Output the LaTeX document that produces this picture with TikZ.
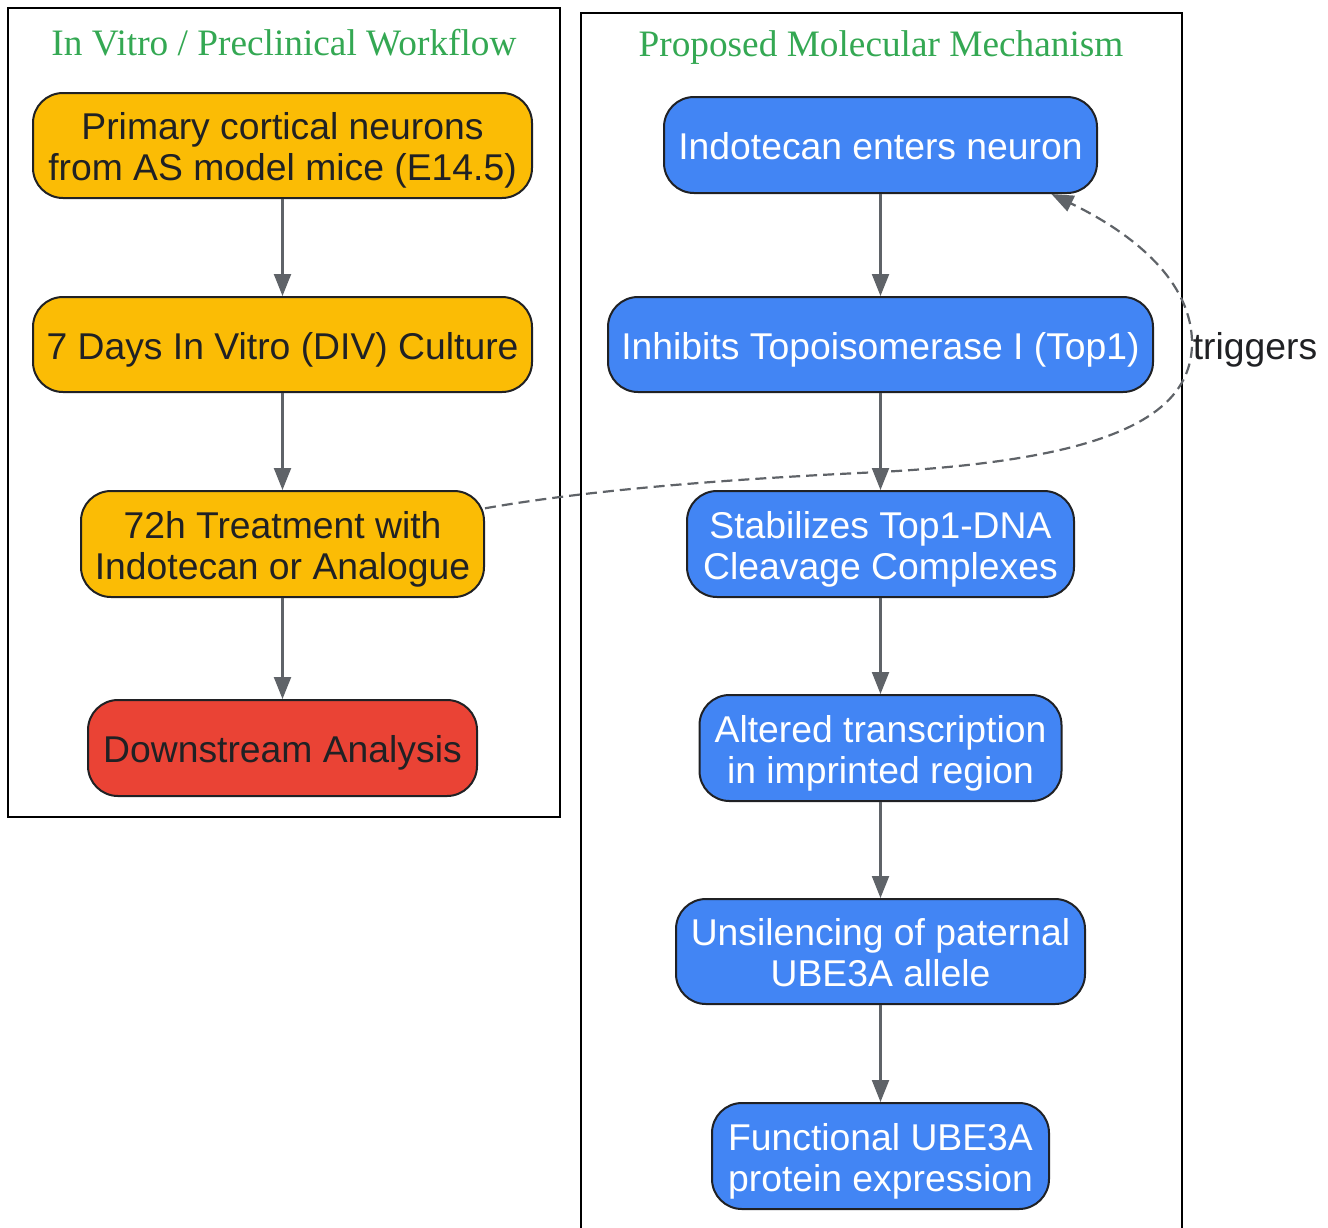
\documentclass[tikz,border=0pt]{standalone}
\usepackage{fontspec}
\setmainfont{Liberation Sans}
\newfontfamily\titlefont{Liberation Serif}
\usetikzlibrary{arrows.meta}
\definecolor{gorange}{HTML}{FBBC05}
\definecolor{gred}{HTML}{EA4335}
\definecolor{gblue}{HTML}{4285F4}
\definecolor{ggreen}{HTML}{34A853}
\definecolor{ggrey}{HTML}{5F6368}
\definecolor{gdark}{HTML}{202124}
\newcommand{\bxt}[1]{\raisebox{-6.5pt}[\height][\depth]{\begin{tabular}{@{}c@{}}#1\end{tabular}}}
\tikzset{
  box/.style={draw=gdark, line width=2pt, rounded corners=30pt, inner sep=0pt, align=center,
    font=\fontsize{37.3}{41}\selectfont},
  orangebox/.style={box, fill=gorange, text=gdark},
  redbox/.style={box, fill=gred, text=gdark},
  bluebox/.style={box, fill=gblue, text=white},
  flow/.style={draw=ggrey, line width=2.2pt, -{Triangle[length=22pt,width=17pt]}},
  trig/.style={draw=ggrey, line width=2.2pt, dash pattern=on 11pt off 6pt, -{Triangle[length=22pt,width=17pt]}},
  cluster/.style={draw=black, line width=2pt},
  ctitle/.style={text=ggreen, font=\titlefont\fontsize{37.3}{41}\selectfont},
}
\begin{document}
\begin{tikzpicture}[x=1pt,y=-1pt]
\useasboundingbox (0,0) rectangle (1328,1227);
% clusters
\draw[cluster] (8,8) rectangle (560,817);
\draw[cluster] (581,1240) -- (581,13) -- (1182,13) -- (1182,1240);
\node[ctitle] (t1) at (284,43) {In Vitro / Preclinical Workflow};
\node[ctitle] (t2) at (881,48) {Proposed Molecular Mechanism};
% left nodes
\node[orangebox, minimum width=499pt, minimum height=105pt] (n1) at (282.5,145.5) {\bxt{Primary cortical neurons\\from AS model mice (E14.5)}};
\node[orangebox, minimum width=499pt, minimum height=95pt] (n2) at (282.5,344.5) {\bxt{7 Days In Vitro (DIV) Culture}};
\node[orangebox, minimum width=403pt, minimum height=106pt] (n3) at (282.5,544) {\bxt{72h Treatment with\\Indotecan or Analogue}};
\node[redbox, minimum width=389pt, minimum height=96pt] (n4) at (282.5,748) {\bxt{Downstream Analysis}};
% right nodes
\node[bluebox, minimum width=433pt, minimum height=96pt] (r1) at (880.5,145) {\bxt{Indotecan enters neuron}};
\node[bluebox, minimum width=545pt, minimum height=95pt] (r2) at (880.5,344.5) {\bxt{Inhibits Topoisomerase I (Top1)}};
\node[bluebox, minimum width=387pt, minimum height=106pt] (r3) at (880.5,544) {\bxt{Stabilizes Top1-DNA\\Cleavage Complexes}};
\node[bluebox, minimum width=362pt, minimum height=106pt] (r4) at (880.5,748) {\bxt{Altered transcription\\in imprinted region}};
\node[bluebox, minimum width=409pt, minimum height=105pt] (r5) at (880.5,951.5) {\bxt{Unsilencing of paternal\\UBE3A allele}};
\node[bluebox, minimum width=337pt, minimum height=106pt] (r6) at (880.5,1156) {\bxt{Functional UBE3A\\protein expression}};
% edges
\draw[flow] (n1) -- (n2);
\draw[flow] (n2) -- (n3);
\draw[flow] (n3) -- (n4);
\draw[flow] (r1) -- (r2);
\draw[flow] (r2) -- (r3);
\draw[flow] (r3) -- (r4);
\draw[flow] (r4) -- (r5);
\draw[flow] (r5) -- (r6);
\draw[trig] (n3.10) .. controls (600,488) and (750,478) .. (880,472)
  .. controls (1100,460) and (1190,420) .. (1192,345)
  .. controls (1193,280) and (1130,232) .. (r1.-16);
\node[text=gdark, font=\fontsize{37.3}{41}\selectfont] (lbl) at (1255,350) {triggers};
\end{tikzpicture}
\end{document}
